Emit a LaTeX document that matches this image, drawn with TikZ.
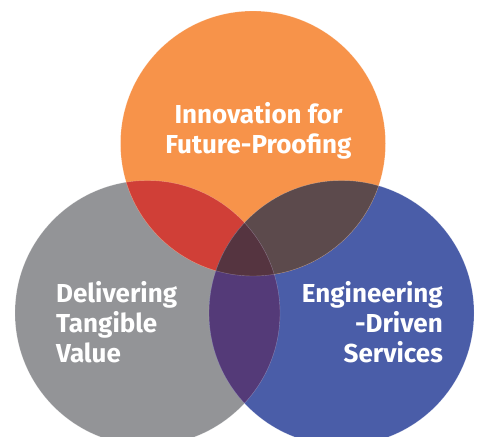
\documentclass[tikz,border=0pt]{standalone}
\usepackage{fontspec}
\setmainfont{Fira Sans}
\definecolor{corange}{HTML}{F7934A}
\definecolor{cgray}{HTML}{939497}
\definecolor{cblue}{HTML}{4A5DA8}
\definecolor{cred}{HTML}{D03F37}
\definecolor{cbrown}{HTML}{5C4A4C}
\definecolor{cpurple}{HTML}{543A78}
\definecolor{cdark}{HTML}{553440}
\begin{document}
\begin{tikzpicture}[x=1pt,y=-1pt,
  label/.style={text=white, font=\bfseries\fontsize{26}{30}\selectfont, inner sep=0pt},
  rim/.style={draw=white, draw opacity=0.3, line width=0.4pt}]
\useasboundingbox (0,0) rectangle (480,437);
\clip (0,0) rectangle (480,437);
\def\R{132.5pt}
\coordinate (top) at (253,143.5);
\coordinate (lft) at (147.5,313);
\coordinate (rgt) at (341.5,313);
% the three circles
\fill[cgray] (lft) circle[radius=\R];
\fill[cblue] (rgt) circle[radius=\R];
\fill[corange] (top) circle[radius=\R];
% pairwise overlaps
\begin{scope}
  \clip (top) circle[radius=\R];
  \fill[cred] (lft) circle[radius=\R];
  \fill[cbrown] (rgt) circle[radius=\R];
\end{scope}
\begin{scope}
  \clip (lft) circle[radius=\R];
  \fill[cpurple] (rgt) circle[radius=\R];
  \clip (rgt) circle[radius=\R];
  \fill[cdark] (top) circle[radius=\R];
\end{scope}
% faint rims
\draw[rim] (lft) circle[radius=\R];
\draw[rim] (rgt) circle[radius=\R];
\draw[rim] (top) circle[radius=\R];
% labels
\node[label, align=center, anchor=north] (innov) at (258.5,102.5) {Innovation for\\Future-Proofing};
\node[label, align=left, anchor=north west] (deliv) at (56,281.5) {Delivering\\Tangible\\Value};
\node[label, align=right, anchor=north east] (engin) at (443,281.5) {Engineering\\-Driven\\Services};
\end{tikzpicture}
\end{document}
